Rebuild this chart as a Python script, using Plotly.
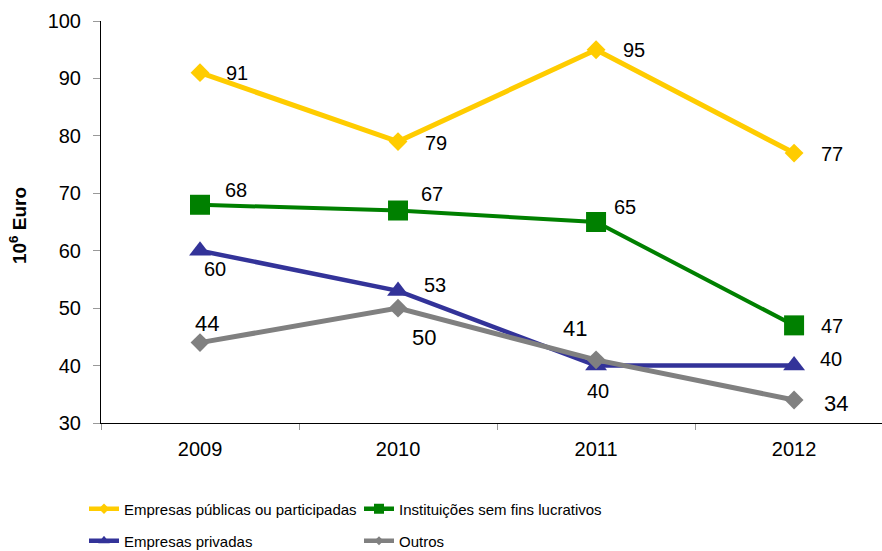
import plotly.graph_objects as go

# Annual values, 10^6 Euro
years = ["2009", "2010", "2011", "2012"]
publicas = [91, 79, 95, 77]
instituicoes = [68, 67, 65, 47]
privadas = [60, 53, 40, 40]
outros = [44, 50, 41, 34]

names = [
    "Empresas públicas ou participadas",
    "Instituições sem fins lucrativos",
    "Empresas privadas",
    "Outros",
]
colors = ["#FFCC00", "#008000", "#333399", "#808080"]
symbols = ["diamond", "square", "triangle-up", "diamond"]
marker_sizes = [14.5, 20, 19, 14.5]
legend_marker_sizes = [8, 10, 10, 7]
line_widths = [5, 4, 4.5, 5]
legend_ids = ["legend", "legend", "legend2", "legend2"]

# value-label placement (pixel offsets from each point)
label_dx = [
    [37, 38, 38, 38],
    [36, 34, 29, 38],
    [15, 37, 2, 37],
    [7, 26, -21, 42],
]
label_dy = [
    [0, -1, 0, -1],
    [15, 17, 15, -1],
    [-18, 6, -25, 7],
    [19, -29, 31, -3],
]
label_sizes = [20, 20, 20, 22]

series = [publicas, instituicoes, privadas, outros]
base_font = "Liberation Sans, Arial, sans-serif"

fig = go.Figure()
annotations = []
for i, vals in enumerate(series):
    fig.add_trace(go.Scatter(
        x=years, y=vals, name=names[i], mode="lines+markers",
        line=dict(color=colors[i], width=line_widths[i]),
        marker=dict(symbol=symbols[i], size=marker_sizes[i], color=colors[i]),
        showlegend=False,
    ))
    # legend entry with a smaller marker on the line
    fig.add_trace(go.Scatter(
        x=[None], y=[None], name=names[i], mode="lines+markers",
        line=dict(color=colors[i], width=4.5),
        marker=dict(symbol=symbols[i], size=legend_marker_sizes[i], color=colors[i]),
        legend=legend_ids[i], hoverinfo="skip",
    ))
    for j, v in enumerate(vals):
        annotations.append(dict(
            x=j, y=v, xref="x", yref="y", text=str(v),
            showarrow=False, xanchor="center", yanchor="middle",
            xshift=label_dx[i][j], yshift=label_dy[i][j],
            font=dict(size=label_sizes[i], color="#000000", family=base_font),
        ))

annotations.append(dict(
    text="<b>10<sup>6</sup> Euro</b>", textangle=-90, showarrow=False,
    xref="paper", yref="paper", x=(18 - 101) / 781, y=0.49,
    xanchor="center", yanchor="middle",
    font=dict(size=19, color="#000000", family=base_font),
))

legend_common = dict(
    orientation="h", entrywidth=230, entrywidthmode="pixels",
    xanchor="left", yanchor="middle",
    font=dict(size=15, color="#000000", family=base_font),
    bgcolor="rgba(0,0,0,0)", itemclick=False, itemdoubleclick=False,
)

fig.update_layout(
    width=882, height=551,
    margin=dict(l=101, r=0, t=21, b=128, pad=0, autoexpand=False),
    plot_bgcolor="white", paper_bgcolor="white",
    font=dict(family=base_font, color="#000000"),
    annotations=annotations,
    legend=dict(x=(84 - 101) / 781, y=(423 - 509) / 402, **legend_common),
    legend2=dict(x=(84 - 101) / 781, y=(423 - 541) / 402, **legend_common),
    xaxis=dict(
        type="category", range=[-0.5, 3.444], tickson="boundaries",
        ticks="outside", ticklen=6, tickcolor="#999999", tickwidth=1,
        showline=True, linecolor="#000000", linewidth=1,
        showgrid=False, zeroline=False, ticklabelstandoff=8,
        tickfont=dict(size=20, color="#000000"),
    ),
    yaxis=dict(
        range=[30, 100], tickmode="linear", tick0=30, dtick=10,
        ticks="outside", ticklen=7, tickcolor="#999999", tickwidth=1,
        showline=True, linecolor="#000000", linewidth=1,
        showgrid=False, zeroline=False, ticklabelstandoff=8,
        tickfont=dict(size=20, color="#000000"),
    ),
)

fig.write_html("out.html")
